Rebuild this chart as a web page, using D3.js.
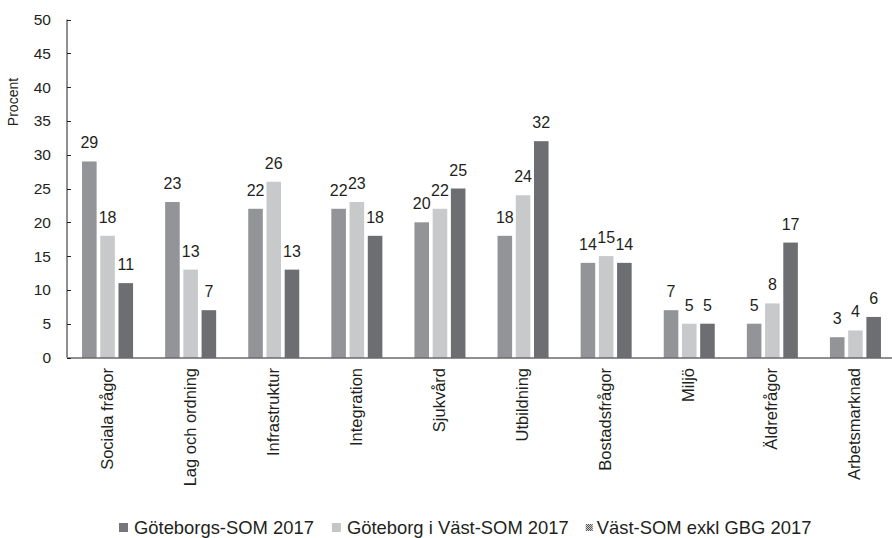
<!DOCTYPE html>
<html><head><meta charset="utf-8">
<script src="https://cdn.jsdelivr.net/npm/d3@7"></script>
<style>body{margin:0;background:#fff}svg{display:block;font-family:"Liberation Sans",Arial,sans-serif}</style>
</head><body><svg id="c" width="892" height="538"></svg>
<script>
const categories = ["Sociala frågor","Lag och ordning","Infrastruktur","Integration","Sjukvård","Utbildning","Bostadsfrågor","Miljö","Äldrefrågor","Arbetsmarknad"];
const seriesNames = ["Göteborgs-SOM 2017","Göteborg i Väst-SOM 2017","Väst-SOM exkl GBG 2017"];
const gbgSom = [29,23,22,22,20,18,14,7,5,3];
const gbgVastSom = [18,13,26,23,22,24,15,5,8,4];
const vastSomExkl = [11,7,13,18,25,32,14,5,17,6];
const yTicks = [0,5,10,15,20,25,30,35,40,45,50];
const barColors = ["#939497","#c8c9cb","#6d6e71"];
const legendColors = ["#76777a","#c4c5c7","url(#chk)"];

const values = [gbgSom, gbgVastSom, vastSomExkl];
const svg = d3.select("#c");
const defs = svg.append("defs");
const pat = defs.append("pattern").attr("id","chk").attr("width",2).attr("height",2).attr("patternUnits","userSpaceOnUse");
pat.append("rect").attr("width",2).attr("height",2).attr("fill","#d0d0d0");
pat.append("rect").attr("width",1).attr("height",1).attr("fill","#555");
pat.append("rect").attr("x",1).attr("y",1).attr("width",1).attr("height",1).attr("fill","#555");

const y = d3.scaleLinear().domain([0,50]).range([357.5,19.5]);
const x0 = d3.scaleBand().domain(categories).range([66,897]).paddingInner(0.386).paddingOuter(0.193);
const x1 = d3.scaleBand().domain([0,1,2]).range([0,x0.bandwidth()]).paddingInner(0.2).paddingOuter(0);

// bars
categories.forEach((c,i)=>{
  const g = svg.append("g").attr("transform",`translate(${x0(c)},0)`);
  values.forEach((arr,s)=>{
    g.append("rect").attr("x",x1(s)).attr("width",x1.bandwidth())
      .attr("y",y(arr[i])).attr("height",y(0)-y(arr[i])).attr("fill",barColors[s]);
    g.append("text").attr("x",x1(s)+x1.bandwidth()/2).attr("y",y(arr[i])-13)
      .attr("text-anchor","middle").attr("font-size",16).attr("fill","#231f20").text(arr[i]);
  });
});

// y axis
const axisColor="#231f20";
svg.append("line").attr("x1",67).attr("x2",67).attr("y1",y(50)).attr("y2",y(0)).attr("stroke",axisColor).attr("stroke-width",1);
yTicks.forEach(t=>{
  svg.append("line").attr("x1",67).attr("x2",71).attr("y1",Math.round(y(t))+0.5).attr("y2",Math.round(y(t))+0.5).attr("stroke",axisColor);
  svg.append("text").attr("x",51).attr("y",y(t)).attr("dy","0.36em").attr("text-anchor","end")
    .attr("font-size",15.5).attr("fill",axisColor).text(t);
});
// x axis
svg.append("line").attr("x1",67).attr("x2",892).attr("y1",358).attr("y2",358).attr("stroke",axisColor).attr("stroke-width",1.2);
categories.forEach(c=>{
  const cx = x0(c)+x0.bandwidth()/2;
  svg.append("text").attr("transform",`translate(${cx+5},368) rotate(-90)`)
    .attr("text-anchor","end").attr("font-size",16.5).attr("fill",axisColor).text(c);
});
// y title
svg.append("text").attr("transform","translate(18,102) rotate(-90)").attr("text-anchor","middle")
  .attr("font-size",14).attr("fill",axisColor).text("Procent");

// legend
let lx = 119;
const mSize = [9,9,7], mOff = [15,15,11], gapAfter = [18,17,0];
seriesNames.forEach((n,s)=>{
  svg.append("rect").attr("x",lx).attr("y",523+(9-mSize[s])/2).attr("width",mSize[s]).attr("height",mSize[s]).attr("fill",legendColors[s]);
  const t = svg.append("text").attr("x",lx+mOff[s]).attr("y",534).attr("font-size",18.4).attr("fill",axisColor).text(n);
  lx += mOff[s] + t.node().getComputedTextLength() + gapAfter[s];
});
</script></body></html>
